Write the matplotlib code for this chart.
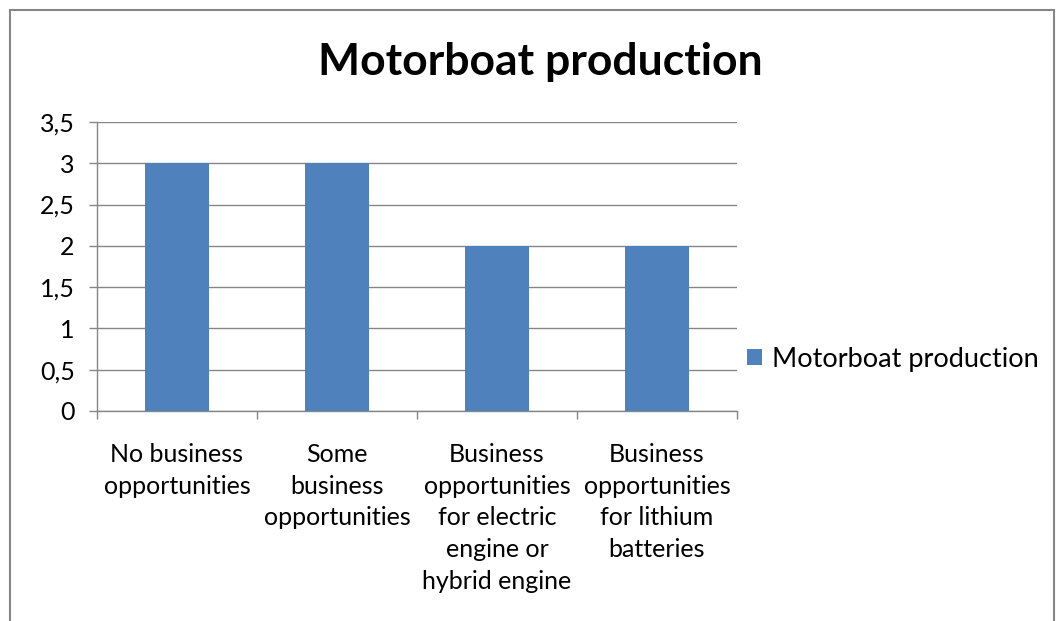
import matplotlib
matplotlib.use("Agg")
from matplotlib import pyplot as plt
from matplotlib.patches import Rectangle
from matplotlib.ticker import FuncFormatter

categories = ["No business\nopportunities",
              "Some\nbusiness\nopportunities",
              "Business\nopportunities\nfor electric\nengine or\nhybrid engine",
              "Business\nopportunities\nfor lithium\nbatteries"]
values = [3, 3, 2, 2]
series_name = "Motorboat production"
y_ticks = [0, 0.5, 1, 1.5, 2, 2.5, 3, 3.5]

W, H = 1057, 621
plt.rcParams['font.family'] = ['Lato', 'DejaVu Sans']
gray = "#868686"
blue = "#4F81BD"

fig = plt.figure(figsize=(W / 100, H / 100), dpi=100)
ax = fig.add_axes([97 / W, (H - 411) / H, 640 / W, 289 / H])

xs = [i + 0.5 for i in range(len(values))]
ax.bar(xs, values, width=0.4, color=blue, label=series_name, zorder=3)

ax.set_xlim(0, len(values))
ax.set_ylim(0, 3.5)
ax.set_yticks(y_ticks)
ax.yaxis.set_major_formatter(FuncFormatter(lambda v, p: ("%g" % v).replace(".", ",")))
ax.grid(axis="y", color=gray, linewidth=1, zorder=0)

ax.set_xticks(xs)
ax.set_xticklabels(categories, fontsize=18, linespacing=1.46)
ax.set_xticks(range(len(values) + 1), minor=True)
ax.tick_params(axis="x", which="major", length=0, pad=23)
ax.tick_params(axis="x", which="minor", length=6, color=gray, width=1)
ax.tick_params(axis="y", length=6, color=gray, width=1, labelsize=18, pad=10)

for s in ["top", "right"]:
    ax.spines[s].set_visible(False)
for s in ["left", "bottom"]:
    ax.spines[s].set_color(gray)
    ax.spines[s].set_linewidth(1)

fig.text(540 / W, 1 - 62 / H, "Motorboat production", fontsize=32,
         fontweight="bold", ha="center", va="center")

fig.legend(loc="center left", bbox_to_anchor=(723 / W, 1 - 359 / H),
           frameon=False, fontsize=19.5, handlelength=0.55, handleheight=0.55,
           handletextpad=0.35)

fig.patches.append(Rectangle((10 / W, -0.1), 1044 / W, 1.1 - 10 / H,
                             transform=fig.transFigure, fill=False,
                             edgecolor=gray, linewidth=1.5))

fig.savefig("out.png", dpi=100)
